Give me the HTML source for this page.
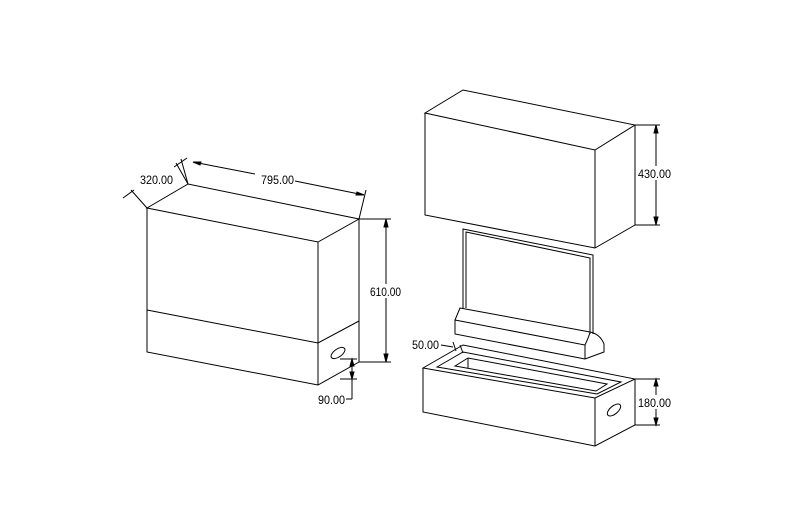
<!DOCTYPE html><html><head><style>body{margin:0;background:#fff}svg{display:block}text{font-family:"Liberation Sans",sans-serif;font-size:12px;fill:#000}</style></head><body>
<svg width="800" height="519" viewBox="0 0 800 519" fill="none" stroke="#000" stroke-width="1">
<polygon points="147,208 188,184 359,219 318,242"/>
<polyline points="147,208 147,352 318,385 359,362 359,219"/>
<line x1="318" y1="242" x2="318" y2="385"/>
<polyline points="147,310 318,343 359,321"/>
<ellipse cx="338" cy="353" rx="8" ry="4" transform="rotate(-35 338 353)"/>
<line x1="359" y1="219" x2="391" y2="219"/><line x1="359" y1="362" x2="391" y2="362"/>
<line x1="386" y1="219" x2="386" y2="284"/><line x1="386" y1="298" x2="386" y2="362"/>
<path d="M386,219 l-2,8 h4z M386,362 l-2,-8 h4z" fill="#000"/>
<line x1="188" y1="184" x2="181" y2="159"/><line x1="359" y1="219" x2="366" y2="190"/>
<line x1="193" y1="162" x2="255" y2="174"/><line x1="295" y1="181" x2="364" y2="195"/>
<path d="M193,162 l8,0 l-1,3z M364,195 l-8,0 l1,-3z" fill="#000"/>
<line x1="147" y1="208" x2="131" y2="190"/><line x1="188" y1="184" x2="176" y2="163"/>
<line x1="123" y1="198" x2="134" y2="190"/><line x1="174" y1="167" x2="187" y2="158"/>
<line x1="340" y1="359" x2="357" y2="359"/><line x1="340" y1="379" x2="357" y2="379"/>
<line x1="352" y1="359" x2="352" y2="399"/><line x1="352" y1="399" x2="346" y2="399"/>
<path d="M352,359 l-2,7 h4z M352,379 l-2,-7 h4z" fill="#000"/>
<text x="140" y="184" stroke="none" textLength="33" lengthAdjust="spacingAndGlyphs">320.00</text>
<text x="261" y="184" stroke="none" textLength="33" lengthAdjust="spacingAndGlyphs">795.00</text>
<text x="370" y="296" stroke="none" textLength="31" lengthAdjust="spacingAndGlyphs">610.00</text>
<text x="318" y="404" stroke="none" textLength="27" lengthAdjust="spacingAndGlyphs">90.00</text>
<polygon points="425,113 463,90 635,125 595,150"/>
<polyline points="425,113 425,215 595,248 635,225 635,125"/>
<line x1="595" y1="150" x2="595" y2="248"/>
<line x1="635" y1="125" x2="660" y2="125"/><line x1="635" y1="225" x2="660" y2="225"/>
<line x1="656" y1="125" x2="656" y2="166"/><line x1="656" y1="180" x2="656" y2="225"/>
<path d="M656,125 l-2,8 h4z M656,225 l-2,-8 h4z" fill="#000"/>
<text x="638" y="178" stroke="none" textLength="33" lengthAdjust="spacingAndGlyphs">430.00</text>
<polyline points="463,308 463,229 593,255 593,334"/>
<polyline points="466,308 466,232 590,258 590,334"/>
<path d="M460,308 L590,332 Q600,334 604,344 L604,352 L585,359 L455,334 L455,320 Z"/>
<polyline points="455,320 585,345 585,359"/>
<path d="M585,345 Q590,334 590,332"/>
<polygon points="423,368 463,345 635,379 595,398"/>
<polyline points="423,368 423,412 595,446 635,425 635,379"/>
<line x1="595" y1="398" x2="595" y2="446"/>
<polygon points="437,367 463,352 621,382 597,394"/>
<polygon points="455,366 468,358 607,384 596,391"/>
<line x1="468" y1="358" x2="468" y2="368"/>
<ellipse cx="614" cy="410" rx="8" ry="4" transform="rotate(-40 614 410)"/>
<line x1="635" y1="379" x2="660" y2="379"/><line x1="635" y1="425" x2="660" y2="425"/>
<line x1="656" y1="379" x2="656" y2="395"/><line x1="656" y1="409" x2="656" y2="425"/>
<path d="M656,379 l-2,7 h4z M656,425 l-2,-7 h4z" fill="#000"/>
<text x="638" y="407" stroke="none" textLength="33" lengthAdjust="spacingAndGlyphs">180.00</text>
<line x1="441" y1="345" x2="453" y2="347"/><line x1="453" y1="342" x2="456" y2="351"/><line x1="460" y1="345" x2="463" y2="353"/>
<text x="412" y="349" stroke="none" textLength="27" lengthAdjust="spacingAndGlyphs">50.00</text>
</svg></body></html>
